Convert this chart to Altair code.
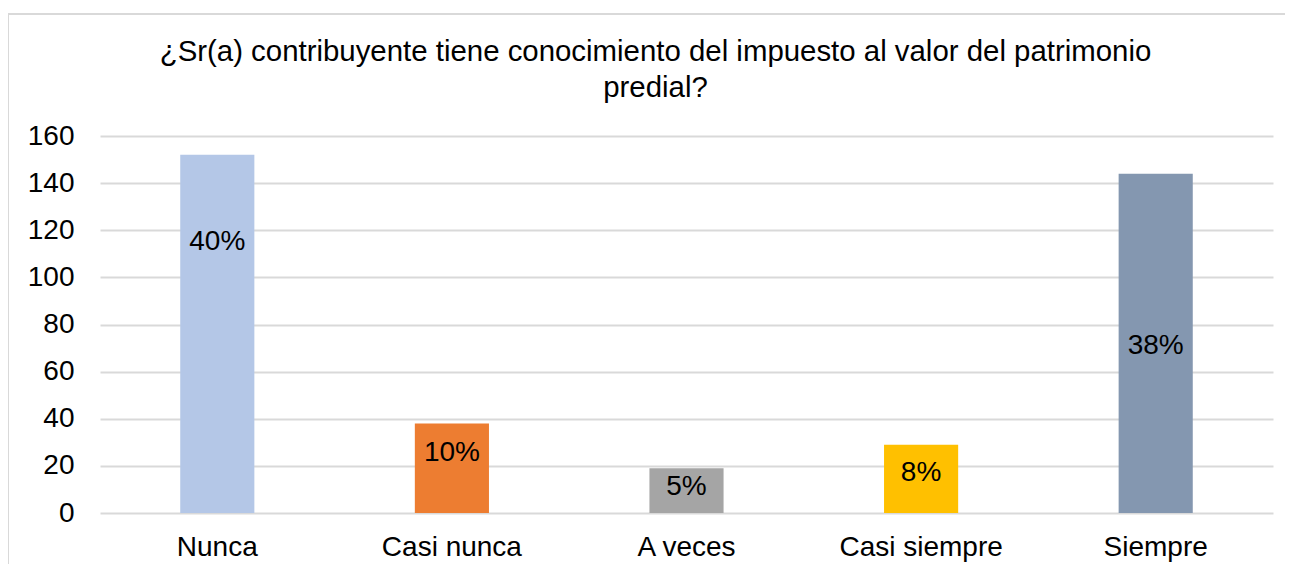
import altair as alt
import pandas as pd

categories = ["Nunca", "Casi nunca", "A veces", "Casi siempre", "Siempre"]
counts = [152, 38, 19, 29, 144]
pct_labels = ["40%", "10%", "5%", "8%", "38%"]
label_at = [115, 25.5, 11, 17, 71]
colors = ["#b4c7e7", "#ed7d31", "#a5a5a5", "#ffc000", "#8497b0"]
y_ticks = [0, 20, 40, 60, 80, 100, 120, 140, 160]
title_lines = ["¿Sr(a) contribuyente tiene conocimiento del impuesto al valor del patrimonio", "predial?"]

df = pd.DataFrame({"cat": categories, "n": counts, "lab": pct_labels, "ly": label_at})

W, H = 1173, 377
FONT = "Liberation Sans"

x = alt.X("cat:N", sort=categories,
          scale=alt.Scale(paddingInner=0.684, paddingOuter=0.342),
          axis=alt.Axis(title=None, labelAngle=0, labelFontSize=28, labelColor="#000000",
                        labelFont=FONT, ticks=False, domain=False, labelPadding=20))

bars = alt.Chart(df).mark_bar().encode(
    x=x,
    y=alt.Y("n:Q", scale=alt.Scale(domain=[0, 160], nice=False),
            axis=alt.Axis(title=None, values=y_ticks, labelFontSize=28, labelColor="#000000",
                          labelFont=FONT, ticks=False, domain=False, labelPadding=26,
                          gridColor="#d9d9d9", gridWidth=2)),
    color=alt.Color("cat:N", sort=categories,
                    scale=alt.Scale(domain=categories, range=colors), legend=None),
)

texts = alt.Chart(df).mark_text(fontSize=28, font=FONT, color="#000000", baseline="middle").encode(
    x=alt.X("cat:N", sort=categories),
    y=alt.Y("ly:Q"),
    text="lab:N",
)

single = alt.Data(values=[{"a": 1}])

frame = alt.Chart(single).mark_rect(
    fill=None, stroke="#d9d9d9", strokeWidth=2
).encode(
    x=alt.value(-92), x2=alt.value(W + 40),
    y=alt.value(-122), y2=alt.value(H + 80),
)

title = alt.Chart(single).mark_text(
    fontSize=29.4, font=FONT, color="#000000", align="center", baseline="middle", lineHeight=36
).encode(
    x=alt.value(W / 2 - 31), y=alt.value(-84), text=alt.value(title_lines),
)

chart = alt.layer(frame, bars, texts, title).properties(
    width=W, height=H,
    background="#ffffff",
    autosize=alt.AutoSizeParams(type="none"),
    padding={"left": 92, "top": 128, "right": 12, "bottom": 51},
).configure_view(stroke=None)

chart.save("out.html", embed_options={"renderer": "svg", "actions": False})
